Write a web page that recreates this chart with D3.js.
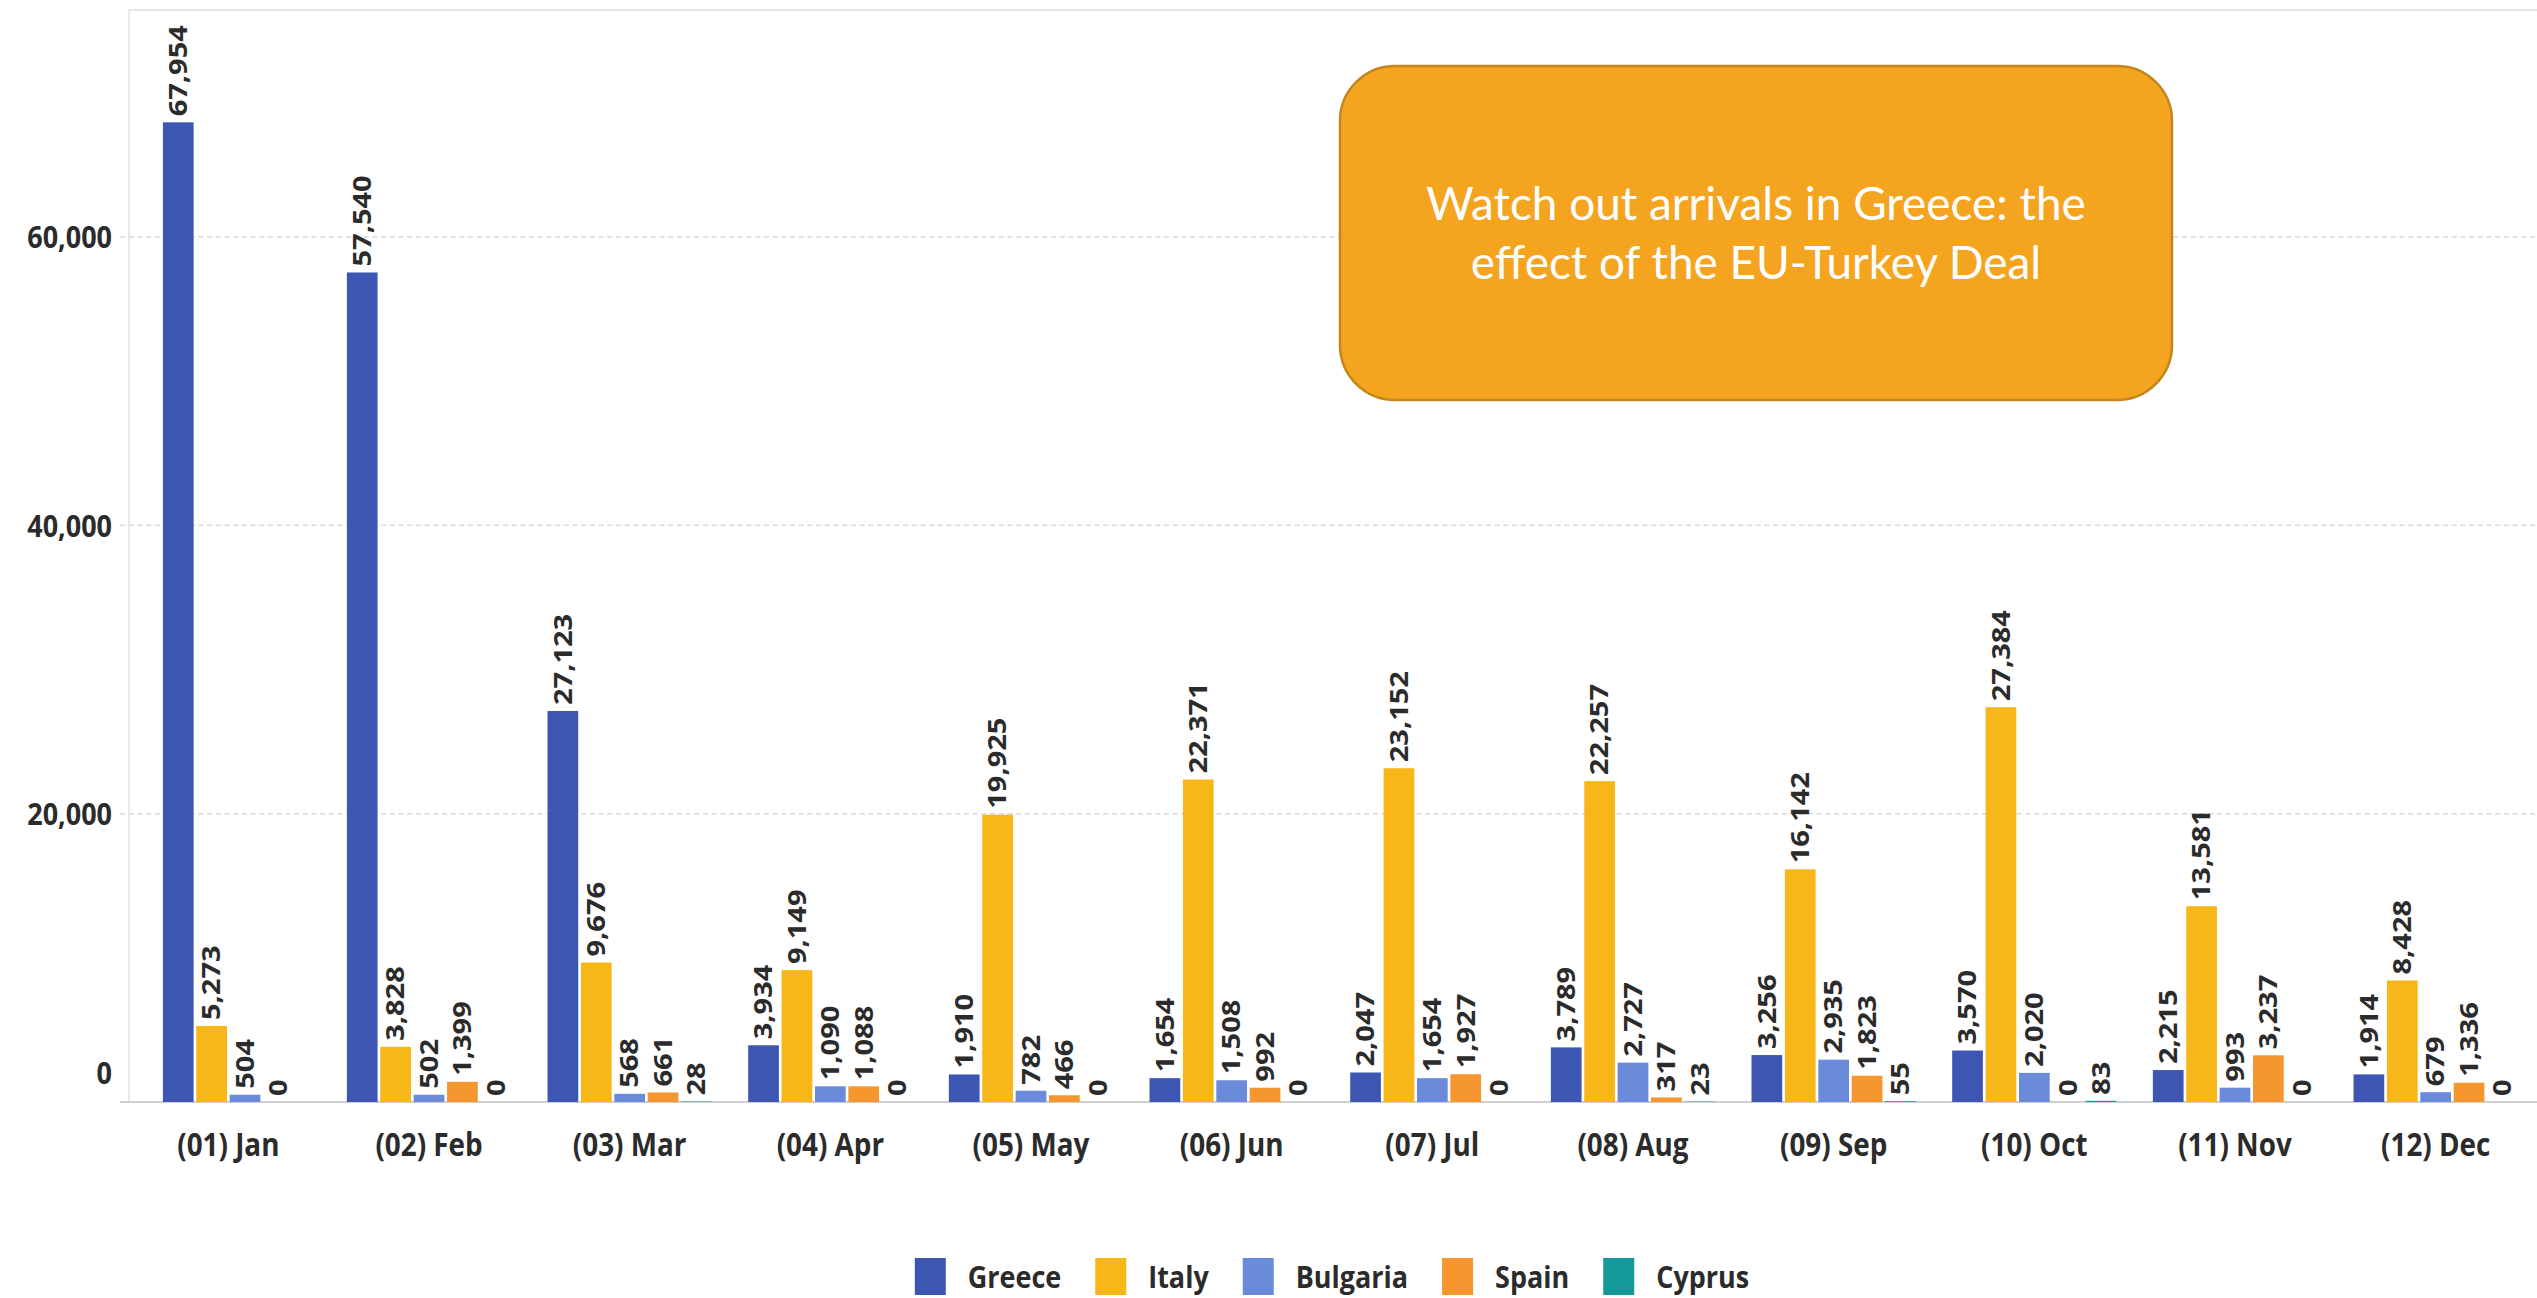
<!DOCTYPE html>
<html>
<head>
<meta charset="utf-8">
<script src="https://cdn.jsdelivr.net/npm/d3@7"></script>
<style>
  html, body { margin: 0; padding: 0; background: #ffffff; }
  svg { display: block; }
</style>
</head>
<body>
<svg id="chart" width="2537" height="1298"></svg>
<script>
// Monthly sea arrivals by country of entry
const months = ["(01) Jan", "(02) Feb", "(03) Mar", "(04) Apr", "(05) May", "(06) Jun",
                "(07) Jul", "(08) Aug", "(09) Sep", "(10) Oct", "(11) Nov", "(12) Dec"];
const seriesNames = ["Greece", "Italy", "Bulgaria", "Spain", "Cyprus"];
const seriesColors = ["#3D56B2", "#F8B719", "#6A8BD9", "#F5962E", "#14999A"];

const greece   = [67954, 57540, 27123, 3934, 1910, 1654, 2047, 3789, 3256, 3570, 2215, 1914];
const italy    = [5273, 3828, 9676, 9149, 19925, 22371, 23152, 22257, 16142, 27384, 13581, 8428];
const bulgaria = [504, 502, 568, 1090, 782, 1508, 1654, 2727, 2935, 2020, 993, 679];
const spain    = [null, 1399, 661, 1088, 466, 992, 1927, 317, 1823, 0, 3237, 1336];
const cyprus   = [0, 0, 28, 0, 0, 0, 0, 23, 55, 83, 0, 0];

const yTickValues = [0, 20000, 40000, 60000];
const noteLines = ["Watch out arrivals in Greece: the", "effect of the EU-Turkey Deal"];

const seriesValues = [greece, italy, bulgaria, spain, cyprus];

// Build one record per month, keeping only the series that have data
const table = months.map((m, i) => ({
  month: m,
  bars: seriesNames
    .map((name, k) => ({ name, color: seriesColors[k], value: seriesValues[k][i] }))
    .filter(d => d.value !== null && d.value !== undefined)
}));

const W = 2537, H = 1298;
const SX = 0.87;               // horizontal condensation of the whole chart
const dx = v => v / SX;        // screen x -> chart-group x

const svg = d3.select("#chart");
const g = svg.append("g").attr("transform", `scale(${SX},1)`);

const plotLeft = 128, plotRight = 2536, plotTop = 10;
const y = d3.scaleLinear().domain([0, 60000]).range([1102, 237]);

const x0 = d3.scaleBand()
  .domain(months)
  .range([dx(plotLeft), dx(plotRight)])
  .paddingInner(0.168)
  .paddingOuter(0.084);

const fontFamily = "'Open Sans', 'Segoe UI', sans-serif";
const textColor = "#2b2b2b";

// Frame
g.append("line")
  .attr("x1", dx(129)).attr("x2", dx(W)).attr("y1", plotTop).attr("y2", plotTop)
  .attr("stroke", "#e6e6e6").attr("stroke-width", 2);
g.append("line")
  .attr("x1", dx(129)).attr("x2", dx(129)).attr("y1", plotTop).attr("y2", y(0))
  .attr("stroke", "#e6e6e6").attr("stroke-width", 2);

// Gridlines
g.append("g")
  .selectAll("line")
  .data(yTickValues.filter(v => v > 0))
  .join("line")
  .attr("x1", dx(120)).attr("x2", dx(W))
  .attr("y1", d => y(d)).attr("y2", d => y(d))
  .attr("stroke", "#d8d8d8").attr("stroke-width", 1.5)
  .attr("stroke-dasharray", "6,4");

// Baseline
g.append("line")
  .attr("x1", dx(120)).attr("x2", dx(W)).attr("y1", y(0)).attr("y2", y(0))
  .attr("stroke", "#cfcfcf").attr("stroke-width", 2);

// Y axis labels
const yAxis = d3.axisLeft(y)
  .tickValues(yTickValues)
  .tickFormat(d3.format(","))
  .tickSize(0)
  .tickPadding(0);
const yAxisG = g.append("g")
  .attr("transform", `translate(${dx(112)},0)`)
  .call(yAxis);
yAxisG.select(".domain").remove();
yAxisG.selectAll("text")
  .attr("font-family", fontFamily)
  .attr("font-weight", 700)
  .attr("font-size", 31)
  .attr("fill", textColor)
  .attr("dy", d => d === 0 ? "-0.6em" : "0.35em");

// Month labels
const xAxis = d3.axisBottom(x0).tickSize(0).tickPadding(0);
const xAxisG = g.append("g")
  .attr("transform", `translate(0,1156)`)
  .call(xAxis);
xAxisG.select(".domain").remove();
xAxisG.selectAll("text")
  .attr("font-family", fontFamily)
  .attr("font-weight", 700)
  .attr("font-size", 32)
  .attr("fill", textColor)
  .attr("dy", 0);

// Bars
const slotW = x0.bandwidth() / seriesNames.length;
const groups = g.append("g")
  .selectAll("g")
  .data(table)
  .join("g")
  .attr("transform", d => `translate(${x0(d.month) + x0.bandwidth() / 2},0)`);

groups.each(function (d) {
  const n = d.bars.length;
  const x1 = d3.scaleBand()
    .domain(d.bars.map(b => b.name))
    .range([-n * slotW / 2, n * slotW / 2])
    .paddingInner(0.08)
    .paddingOuter(0.04);
  const sel = d3.select(this);
  sel.selectAll("rect")
    .data(d.bars)
    .join("rect")
    .attr("x", b => x1(b.name))
    .attr("width", x1.bandwidth())
    .attr("y", b => y(b.value))
    .attr("height", b => y(0) - y(b.value))
    .attr("fill", b => b.color);
  sel.selectAll("text")
    .data(d.bars)
    .join("text")
    .attr("transform", b => `translate(${x1(b.name) + x1.bandwidth() / 2},${y(b.value) - 6}) rotate(-90)`)
    .attr("dy", "0.35em")
    .attr("text-anchor", "start")
    .attr("font-family", fontFamily)
    .attr("font-weight", 700)
    .attr("font-size", 29)
    .attr("fill", textColor)
    .text(b => d3.format(",")(b.value));
});

// Legend
const legend = g.append("g");
const items = legend.selectAll("g")
  .data(seriesNames.map((name, k) => ({ name, color: seriesColors[k] })))
  .join("g");
items.append("rect")
  .attr("x", 0).attr("y", 1258)
  .attr("width", dx(31)).attr("height", 37)
  .attr("fill", d => d.color);
items.append("text")
  .attr("x", dx(31) + dx(22))
  .attr("y", 1288)
  .attr("font-family", fontFamily)
  .attr("font-weight", 700)
  .attr("font-size", 31)
  .attr("fill", textColor)
  .text(d => d.name);
let cursor = 0;
items.each(function () {
  const it = d3.select(this);
  it.attr("transform", `translate(${cursor},0)`);
  const tw = it.select("text").node().getComputedTextLength();
  cursor += dx(31) + dx(22) + tw + dx(34);
});
const legendWidth = cursor - dx(34);
legend.attr("transform", `translate(${dx((plotLeft + plotRight) / 2) - legendWidth / 2},0)`);

// Call-out box
const note = svg.append("g");
note.append("rect")
  .attr("x", 1340).attr("y", 66)
  .attr("width", 832).attr("height", 334)
  .attr("rx", 55).attr("ry", 55)
  .attr("fill", "#F5A41F")
  .attr("stroke", "#C2861C")
  .attr("stroke-width", 2.5);
const noteText = note.selectAll("text")
  .data(noteLines)
  .join("text")
  .attr("x", 1756)
  .attr("y", (d, i) => 220 + i * 59)
  .attr("text-anchor", "middle")
  .attr("font-family", "'Lato', 'Open Sans', sans-serif")
  .attr("font-weight", 400)
  .attr("font-size", 44)
  .attr("fill", "#ffffff")
  .text(d => d);
// fit the first line to the box's text width
const firstW = noteText.node().getComputedTextLength();
const fitted = 44 * 660 / firstW;
noteText.attr("font-size", Math.min(48, Math.max(34, fitted)));
</script>
</body>
</html>
